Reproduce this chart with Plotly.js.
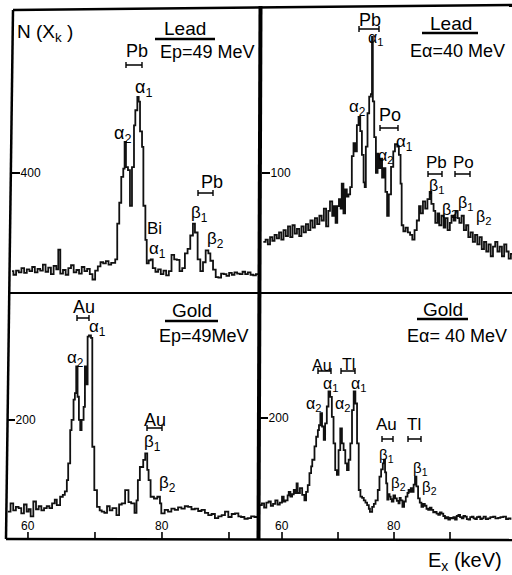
<!DOCTYPE html>
<html><head><meta charset="utf-8">
<script src="https://cdn.plot.ly/plotly-3.0.1.min.js"></script>
<style>html,body{margin:0;padding:0;background:#fff}#chart{width:512px;height:575px}</style>
</head><body><div id="chart"></div>
<script>
// ---- Data (energy in keV, counts N(Xk)) ----
// Top-left: Lead, Ep = 49 MeV
const tlE=[56.0,56.4,56.8,57.2,57.6,58.0,58.4,58.8,59.2,59.6,60.0,60.4,60.8,61.2,61.6,62.0,62.4,62.8,63.1,63.4,63.8,64.2,64.6,65.0,65.4,65.8,66.2,66.6,67.0,67.4,67.8,68.2,68.6,69.0,69.4,69.8,70.2,70.6,71.0,71.6,71.9,72.2,72.5,72.8,73.0,73.2,73.5,73.8,74.1,74.4,74.6,74.9,75.1,75.3,75.6,75.8,76.1,76.3,76.6,76.9,77.2,77.6,78.0,78.4,78.8,79.2,79.6,80.0,80.4,80.8,81.2,81.6,82.0,82.4,82.8,83.2,83.5,83.9,84.3,84.7,85.1,85.5,85.8,86.2,86.6,87.0,87.4,87.8,88.2,88.6,89.0,89.4,89.8,90.2,90.6,91.0,91.4,91.8,92.2,92.6,93.0];
const tlN=[70,58,72,66,80,64,76,70,84,66,78,72,92,68,82,60,88,76,142,62,74,58,80,90,66,74,62,84,70,78,60,42,72,86,100,96,104,92,98,110,230,300,387,415,505,420,410,290,420,560,611,656,640,540,488,290,175,96,106,110,80,68,76,60,72,56,70,125,110,108,70,80,130,145,190,230,200,110,70,100,140,130,105,75,50,48,62,60,54,64,58,66,62,60,68,60,66,58,56,60,58];
// Top-right: Lead, E alpha = 40 MeV
const trE=[55.6,56.0,56.4,56.8,57.2,57.6,58.0,58.4,58.8,59.2,59.6,60.0,60.4,60.8,61.2,61.6,62.0,62.4,62.8,63.2,63.6,64.0,64.4,64.8,65.2,65.6,66.0,66.4,66.8,67.2,67.5,67.9,68.2,68.5,68.8,69.1,69.4,69.6,69.9,70.2,70.5,70.8,71.1,71.4,71.7,72.0,72.3,72.6,72.9,73.2,73.5,73.7,73.9,74.2,74.5,74.8,75.0,75.15,75.4,75.7,76.0,76.2,76.5,76.8,77.1,77.4,77.7,78.0,78.4,78.8,79.1,79.5,79.8,80.1,80.3,80.6,81.0,81.4,81.8,82.2,82.6,83.0,83.4,83.7,84.1,84.5,84.9,85.3,85.6,86.0,86.3,86.7,87.0,87.4,87.8,88.1,88.5,88.9,89.2,89.6,89.9,90.3,90.6,91.0,91.4,91.8,92.2,92.6,93.0,93.4,93.8,94.2,94.6,95.0,95.4,95.8,96.2,96.6,97.0,97.4,97.8,98.2,98.6,99.0,99.4,99.8,100.2];
const trN=[42,44,40,46,43,48,45,50,44,52,47,55,46,56,49,53,47,55,50,57,52,60,54,62,57,64,60,70,55,68,76,64,72,58,72,78,70,91,66,86,80,82,88,114,125,118,140,147,135,115,92,88,122,150,164,166,214,160,130,100,116,104,112,96,104,84,64,82,105,118,124,122,115,91,56,51,54,50,48,44,52,60,72,66,76,70,78,84,74,68,58,66,56,64,54,62,52,58,64,60,68,62,58,64,52,56,46,50,42,48,40,46,36,42,34,40,30,38,42,34,38,30,40,34,28,32,30];
// Bottom-left: Gold, Ep = 49 MeV
const blE=[57.0,57.4,57.8,58.2,58.6,59.0,59.4,59.8,60.1,60.4,60.8,61.2,61.6,62.0,62.4,62.8,63.2,63.6,64.0,64.3,64.8,65.2,65.5,65.8,66.0,66.3,66.5,66.8,67.0,67.2,67.4,67.6,67.8,68.0,68.3,68.5,68.7,68.9,69.1,69.4,69.6,69.9,70.3,70.7,71.0,71.4,71.8,72.2,72.6,73.2,73.6,74.0,74.5,75.0,75.4,75.9,76.2,76.4,76.7,77.2,77.5,77.8,78.0,78.3,78.8,79.3,79.7,79.9,80.4,80.9,81.4,81.9,82.4,82.9,83.4,83.9,84.4,84.9,85.4,85.9,86.4,86.9,87.4,87.9,88.4,88.9,89.4,89.9,90.4,90.9,91.4,91.8,92.3,92.8,93.3,93.8,94.3];
const blN=[46,60,48,54,52,43,58,46,50,38,63,50,55,48,52,55,52,60,66,57,71,74,80,99,127,183,200,234,245,290,239,200,183,200,222,290,260,340,342,338,155,82,54,48,46,44,55,48,52,40,58,60,82,62,60,44,65,99,121,133,144,116,99,71,68,71,60,43,49,46,51,49,53,51,55,54,50,51,47,49,44,40,42,35,38,40,46,37,42,43,38,37,34,35,38,37,36];
// Bottom-right: Gold, E alpha = 40 MeV
const brE=[56.0,56.4,56.8,57.2,57.6,58.0,58.4,58.8,59.2,59.6,60.0,60.3,60.6,61.0,61.2,61.5,61.8,62.1,62.4,62.6,62.8,63.2,63.6,64.0,64.3,64.6,64.9,65.2,65.4,65.8,66.1,66.4,66.6,66.85,67.15,67.45,67.7,68.0,68.3,68.6,68.9,69.2,69.5,69.8,70.1,70.4,70.7,71.0,71.3,71.6,71.9,72.2,72.5,72.8,73.1,73.4,73.7,74.0,74.3,74.6,74.9,75.2,75.5,75.7,76.1,76.4,76.7,77.1,77.4,77.7,78.0,78.2,78.4,78.6,78.8,79.0,79.2,79.4,79.6,79.9,80.2,80.5,80.8,81.0,81.2,81.5,81.8,82.1,82.4,82.6,82.8,83.0,83.3,83.5,83.75,84.0,84.3,84.6,84.9,85.2,85.5,85.8,86.1,86.4,86.7,87.0,87.3,87.6,87.9,88.2,88.5,88.8,89.1,89.4,89.7,90.0,90.3,90.6,90.9,91.2,91.5,91.8,92.1,92.4,92.7,93.0,93.3,93.6,93.9,94.2,94.5,94.8,95.1,95.4,95.7,96.0,96.4,96.8,97.2,97.7,98.1,98.6,99.0,99.5,100.0,100.4,100.8];
const brN=[56,59,52,60,62,55,58,64,57,60,70,62,64,72,78,70,74,81,76,92,76,84,73,64,78,89,109,120,131,153,169,180,188,208,186,164,191,219,244,235,202,158,114,106,147,183,158,147,125,114,131,158,213,244,224,158,81,70,68,64,60,56,50,45,53,58,64,81,103,115,125,131,110,92,65,74,70,66,62,72,67,63,59,68,64,53,62,70,76,81,78,84,78,90,103,87,67,60,53,58,55,50,48,52,48,44,45,42,40,44,42,38,34,36,32,35,34,36,32,38,40,36,34,38,37,33,32,36,37,34,33,36,37,33,34,37,33,34,36,37,34,35,36,37,33,34,32];
// Tick values / labels
const yTickTL=[400], yTickTR=[100], yTickBL=[200], yTickBR=[200];
const xTickVals=[60,70,80,90], xTickText=['60','','80',''];

// ---- helpers ----
const W=512,H=575;
const px=x=>x/W, py=y=>1-y/H;
const F='Liberation Sans, Arial, sans-serif';

function spec(x,y,xa,ya){
  return {x:x,y:y,xaxis:xa,yaxis:ya,type:'scatter',mode:'lines',
    line:{color:'#111',width:1.8,shape:'hv'},hoverinfo:'skip'};
}
const data=[spec(tlE,tlN,'x','y'),spec(trE,trN,'x2','y2'),spec(blE,blN,'x3','y3'),spec(brE,brN,'x4','y4')];

function yax(dom,rng,tv){
  return {domain:dom,range:rng,tickvals:tv,ticktext:tv.map(String),ticks:'inside',ticklen:8,tickwidth:1.5,
    tickcolor:'#000',ticklabelposition:'inside',ticklabeloverflow:'allow',showline:false,showgrid:false,zeroline:false,
    tickfont:{family:F,size:12,color:'#000'},fixedrange:true};
}
function xax(dom,rng){
  return {domain:dom,range:rng,visible:false,fixedrange:true};
}

function P(pts){ // pixel points -> paper path
  return pts.map(p=>p[0]+px(p[1]).toFixed(5)+','+py(p[2]).toFixed(5)).join(' ');
}
function line(x1,y1,x2,y2,w){
  return {type:'path',xref:'paper',yref:'paper',path:P([['M',x1,y1],['L',x2,y2]]),line:{color:'#000',width:w}};
}
function bar(x1,x2,y){
  return {type:'path',xref:'paper',yref:'paper',
    path:P([['M',x1,y],['L',x2,y],['M',x1,y-3],['L',x1,y+3],['M',x2,y-3],['L',x2,y+3]]),
    line:{color:'#000',width:1.4}};
}
const shapes=[
  line(13,10,512,5,2.5), line(13,10,6,539,2.5), line(6,539,512,540,2.5),
  line(260.5,6,258.5,540,4), line(9,293,512,293,2),
  bar(126,142,65), bar(198,213,193),
  bar(359,379,29), bar(380,398,128), bar(428,442,174), bar(455,470,174),
  bar(77,89,318), bar(147,162,428),
  bar(318,331,371), bar(341,355,371), bar(382,393,439), bar(408,421,439),
  line(155,39,215,39,2.5), line(422,33,478,33,2.5), line(165,321,218,321,2.5), line(417,319,468,319,2.5)
];
// x tick marks (upward from the bottom frame) on the bottom panels, at the tick values of each axis
['x3','x4'].forEach(ax=>{
  xTickVals.forEach(v=>{
    shapes.push({type:'line',xref:ax,yref:'paper',x0:v,x1:v,y0:py(539),y1:py(532),line:{color:'#000',width:1.6}});
  });
});

const a1='α<sub>1</sub>', a2='α<sub>2</sub>', b1='β<sub>1</sub>', b2='β<sub>2</sub>';
const labels=[
  ['Lead',185,29,19],['Ep=49 MeV',207,52,18],['Pb',137,51,18],[a1,143,88,18],[a2,122,134,18],
  ['Bi',154,228,17],[a1,157,250,17],['Pb',212,182,18],[b1,199,214,17],[b2,215,240,17],
  ['Pb',370,20,18],[a1,375,38,16],['Lead',451,23,19],['Eα=40 MeV',457,51,18],[a2,357,108,17],
  ['Po',390,115,18],[a1,404,143,17],[a2,385,156,16],['Pb',436,163,17],['Po',463,163,17],
  [b1,436,186,16],[b2,449,210,16],[b1,465,203,16],[b2,483,217,16],
  ['Au',84,307,18],[a1,97,328,17],[a2,75,359,17],['Gold',192,310,19],['Ep=49MeV',204,336,18],
  ['Au',155,420,18],[b1,152,443,17],[b2,167,484,17],
  ['Gold',443,309,19],['Eα= 40 MeV',457,336,18],['Au',322,365,16],['Tl',348,364,16],
  [a1,330,384,16],[a1,358,384,16],[a2,313,404,16],[a2,342,404,16],
  ['Au',386,424,17],['Tl',414,424,17],[b1,386,455,15],[b2,398,483,15],[b1,420,468,15],[b2,429,487,15],
  ['E<sub>x</sub> (keV)',465,561,20]
];
const annotations=labels.map(l=>({text:l[0],x:px(l[1]),y:py(l[2]),xref:'paper',yref:'paper',showarrow:false,
  xanchor:'center',yanchor:'middle',font:{family:F,size:l[3],color:'#000'}}));
annotations.push({text:'N (X<sub>k</sub> )',x:px(15),y:py(33),xref:'paper',yref:'paper',showarrow:false,
  xanchor:'left',yanchor:'middle',font:{family:F,size:19,color:'#000'}});
// x tick labels of the bottom panels, placed at the tick values on each axis
['x3','x4'].forEach(ax=>{
  xTickVals.forEach((v,i)=>{
    if(xTickText[i]) annotations.push({text:xTickText[i],x:v,xref:ax,y:py(526),yref:'paper',showarrow:false,
      xanchor:'center',yanchor:'middle',font:{family:F,size:12,color:'#000'}});
  });
});

const layout={
  width:W,height:H,margin:{l:0,r:0,t:0,b:0},paper_bgcolor:'#fff',plot_bgcolor:'rgba(0,0,0,0)',showlegend:false,
  xaxis:xax([px(12),px(260)],[56.19,93.21]),
  yaxis:yax([py(292),py(10)],[0,948],yTickTL),
  xaxis2:xax([px(262),1],[55.36,100]),
  yaxis2:yax([py(292),py(6)],[0,240],yTickTR),
  xaxis3:xax([px(7),px(258)],[56.87,94.33]),
  yaxis3:yax([py(539),py(294)],[0,411.6],yTickBL),
  xaxis4:xax([px(260),1],[56.07,101.07]),
  yaxis4:yax([py(539),py(294)],[0,405],yTickBR),
  shapes:shapes,annotations:annotations
};
layout.xaxis.anchor='y';layout.yaxis.anchor='x';
layout.xaxis2.anchor='y2';layout.yaxis2.anchor='x2';
layout.xaxis3.anchor='y3';layout.yaxis3.anchor='x3';
layout.xaxis4.anchor='y4';layout.yaxis4.anchor='x4';
Plotly.newPlot('chart',data,layout,{staticPlot:true,displayModeBar:false});
</script></body></html>
